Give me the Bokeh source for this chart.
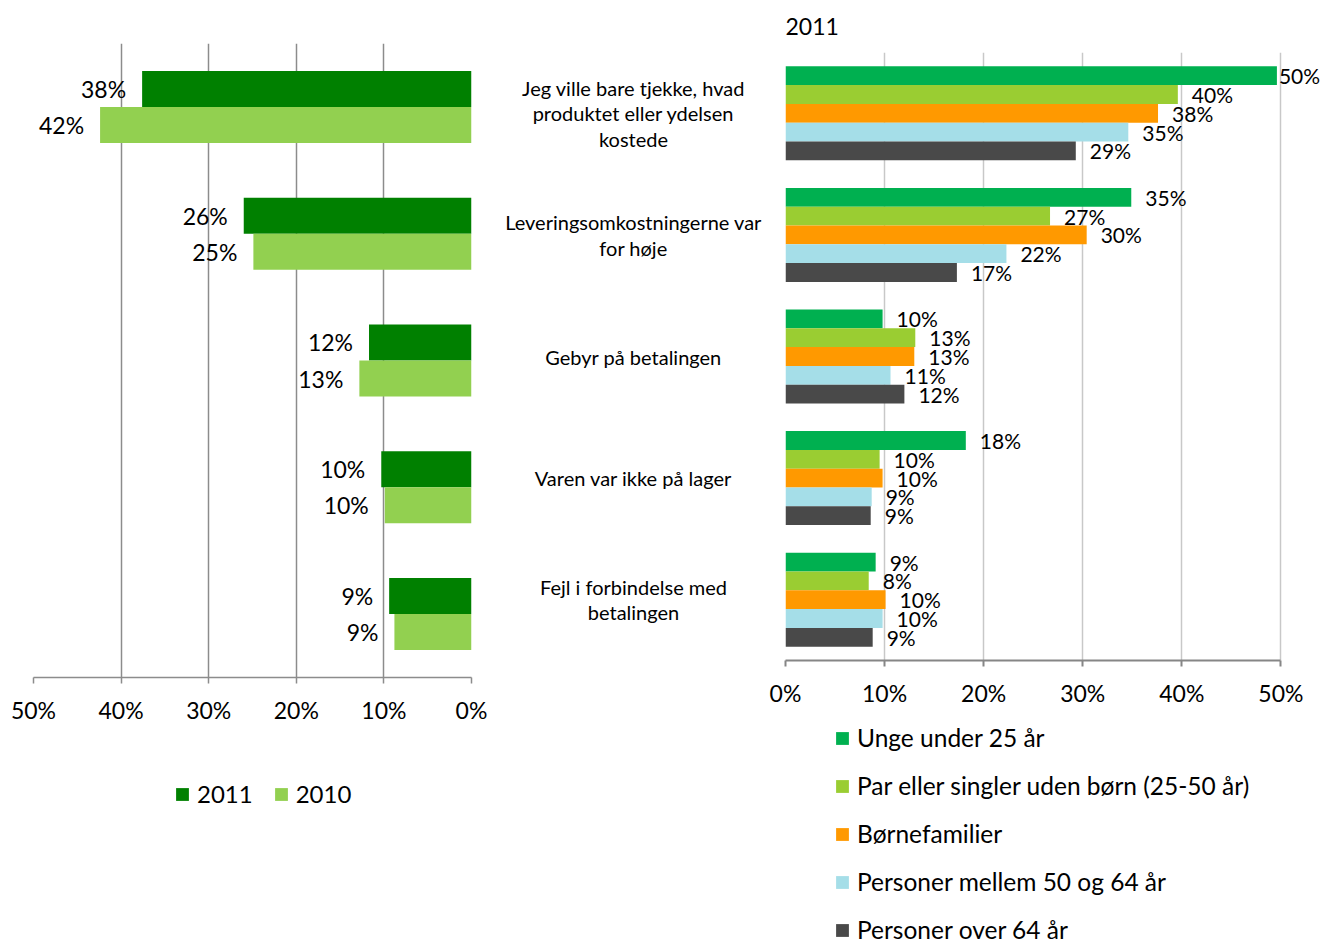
from bokeh.plotting import figure
from bokeh.models import (Range1d, FactorRange, FixedTicker, PrintfTickFormatter,
                          Legend, LegendItem, ColumnDataSource)
from bokeh.transform import dodge
from bokeh.layouts import row, column
from bokeh.embed import file_html
from bokeh.resources import INLINE
from bokeh.core.properties import value

# ---------------- data ----------------
categories = [
    "Jeg ville bare tjekke, hvad produktet eller ydelsen kostede",
    "Leveringsomkostningerne var for høje",
    "Gebyr på betalingen",
    "Varen var ikke på lager",
    "Fejl i forbindelse med betalingen",
]
category_labels = [
    "Jeg ville bare tjekke, hvad\nproduktet eller ydelsen\nkostede",
    "Leveringsomkostningerne var\nfor høje",
    "Gebyr på betalingen",
    "Varen var ikke på lager",
    "Fejl i forbindelse med\nbetalingen",
]

years = ["2011", "2010"]
share_2011 = [37.6, 26.0, 11.7, 10.3, 9.4]
share_2010 = [42.4, 24.9, 12.8, 9.9, 8.8]

right_title = "2011"
groups = [
    "Unge under 25 år",
    "Par eller singler uden børn (25-50 år)",
    "Børnefamilier",
    "Personer mellem 50 og 64 år",
    "Personer over 64 år",
]
unge = [49.6, 34.9, 9.8, 18.2, 9.1]
par_singler = [39.6, 26.7, 13.1, 9.5, 8.4]
boernefamilier = [37.6, 30.4, 13.0, 9.8, 10.1]
mellem_50_64 = [34.6, 22.3, 10.6, 8.7, 9.8]
over_64 = [29.3, 17.3, 12.0, 8.6, 8.8]

tick_values = [0, 10, 20, 30, 40, 50]

# ---------------- style ----------------
FONT = "Lato"
TEXT = "#000000"
YEAR_COLORS = ["#008000", "#92D050"]
GROUP_COLORS = ["#00B050", "#9ACD32", "#FF9900", "#A5DEE8", "#494949"]


def pct(v):
    return f"{int(v + 0.5)}%"


y_factors = list(reversed(categories))


def no_align(fig):
    if "frame_align" in fig.properties():
        fig.frame_align = False


def style_axis(ax, color, width, standoff):
    ax.ticker = FixedTicker(ticks=tick_values)
    ax.formatter = PrintfTickFormatter(format="%d%%")
    ax.axis_line_color = color
    ax.axis_line_width = width
    ax.major_tick_line_color = color
    ax.major_tick_line_width = width
    ax.major_tick_out = 6
    ax.major_tick_in = 0
    ax.minor_tick_out = 0
    ax.minor_tick_in = 0
    ax.major_label_text_font = FONT
    ax.major_label_text_font_size = "23px"
    ax.major_label_text_color = TEXT
    ax.major_label_standoff = standoff


def legend_figure(width, height):
    f = figure(frame_width=width, frame_height=height, x_range=Range1d(0, 1),
               y_range=Range1d(0, 1), x_axis_location=None, y_axis_location=None,
               output_backend="svg", toolbar_location=None,
               min_border_left=0, min_border_right=0, min_border_top=0,
               min_border_bottom=0)
    no_align(f)
    f.outline_line_color = None
    f.grid.visible = False
    return f


def swatch(f, color):
    # a zero-width bar outside the visible range: only its legend swatch shows
    return f.hbar(y=[-1], left=[0], right=[0], height=0.1,
                  fill_color=color, line_color=None)


def make_legend(items, orientation, loc, spacing, size):
    return Legend(items=items, orientation=orientation, location=loc, margin=0,
                  padding=0, border_line_color=None, background_fill_alpha=0,
                  glyph_width=16, glyph_height=16, label_standoff=7,
                  label_height=26, spacing=spacing, label_text_font=FONT,
                  label_text_font_size=size, label_text_color=TEXT)


# ---------------- left panel ----------------
left = figure(frame_width=438, frame_height=634, x_range=Range1d(50, 0),
              y_range=FactorRange(factors=y_factors),
              output_backend="svg", toolbar_location=None,
              min_border_left=33, min_border_right=20, min_border_top=43,
              min_border_bottom=50)
no_align(left)
left.outline_line_color = None
left.yaxis.visible = False
left.ygrid.visible = False
left.xgrid.grid_line_color = "#8C8C8C"
left.xgrid.grid_line_width = 1.5
style_axis(left.xaxis[0], "#8C8C8C", 1.5, 12)

src_left = ColumnDataSource(dict(
    cat=categories, v2011=share_2011, v2010=share_2010,
    l2011=[pct(v) for v in share_2011], l2010=[pct(v) for v in share_2010]))

bh = 0.284
left.hbar(y=dodge("cat", bh / 2, range=left.y_range), left=0, right="v2011",
          height=bh, fill_color=YEAR_COLORS[0], line_color=None, source=src_left)
left.hbar(y=dodge("cat", -bh / 2, range=left.y_range), left=0, right="v2010",
          height=bh, fill_color=YEAR_COLORS[1], line_color=None, source=src_left)
for col, lab_col, off in (("v2011", "l2011", bh / 2), ("v2010", "l2010", -bh / 2)):
    left.text(x=col, y=dodge("cat", off, range=left.y_range), text=lab_col,
              source=src_left, text_align="right", text_baseline="middle",
              x_offset=-16, text_font=value(FONT), text_font_size="23px",
              text_color=TEXT)

# legend for the left panel (own strip below the axis)
left_leg = legend_figure(491, 100)
left_items = [LegendItem(label=name, renderers=[swatch(left_leg, color)])
              for name, color in zip(years, YEAR_COLORS)]
left_leg.add_layout(make_legend(left_items, "horizontal", (174, 19), 20, "24px"),
                    "center")

# ---------------- category labels ----------------
lab = figure(frame_width=274, frame_height=608, x_range=Range1d(0, 1),
             y_range=FactorRange(factors=y_factors),
             output_backend="svg", toolbar_location=None,
             min_border_left=0, min_border_right=0, min_border_top=52,
             min_border_bottom=0)
no_align(lab)
lab.outline_line_color = None
lab.axis.visible = False
lab.grid.visible = False
src_lab = ColumnDataSource(dict(cat=categories, label=category_labels,
                                xc=[0.5] * len(categories)))
lab.text(x="xc", y="cat", text="label", source=src_lab, text_align="center",
         text_baseline="middle", x_offset=5, text_font=value(FONT),
         text_font_size="20px", text_line_height=1.06, text_color=TEXT)

# ---------------- right panel ----------------
right = figure(frame_width=535, frame_height=608, x_range=Range1d(0, 54),
               y_range=FactorRange(factors=y_factors), title=right_title,
               output_backend="svg", toolbar_location=None,
               min_border_left=20, min_border_right=0, min_border_top=52,
               min_border_bottom=50)
no_align(right)
right.outline_line_color = None
right.title.text_font = FONT
right.title.text_font_size = "23px"
right.title.text_font_style = "normal"
right.title.text_color = TEXT
right.title.align = "left"
right.title.vertical_align = "top"
right.title.standoff = 32
right.yaxis.visible = False
right.ygrid.visible = False
right.xgrid.grid_line_color = "#C8C8C8"
right.xgrid.grid_line_width = 1.5
style_axis(right.xaxis[0], "#868686", 2, 12)
right.xaxis[0].bounds = (0, 50)

series = [unge, par_singler, boernefamilier, mellem_50_64, over_64]
gh = 0.1546
for i, (vals, color) in enumerate(zip(series, GROUP_COLORS)):
    off = (2 - i) * gh
    src = ColumnDataSource(dict(cat=categories, v=vals, lbl=[pct(v) for v in vals],
                                xo=[2 if v >= 49 else 14 for v in vals]))
    right.hbar(y=dodge("cat", off, range=right.y_range), left=0, right="v",
               height=gh, fill_color=color, line_color=None, source=src)
    right.text(x="v", y=dodge("cat", off, range=right.y_range), text="lbl",
               source=src, x_offset="xo", text_align="left", text_baseline="middle",
               text_font=value(FONT), text_font_size="21px", text_color=TEXT)

# legend for the right panel (own strip below the axis)
right_leg = legend_figure(555, 235)
right_items = [LegendItem(label=name, renderers=[swatch(right_leg, color)])
               for name, color in zip(groups, GROUP_COLORS)]
right_leg.add_layout(make_legend(right_items, "vertical", (69, 1), 19, "24.5px"),
                     "center")

layout = row(column(left, left_leg), lab, column(right, right_leg))
open("out.html", "w").write(file_html(layout, INLINE))
